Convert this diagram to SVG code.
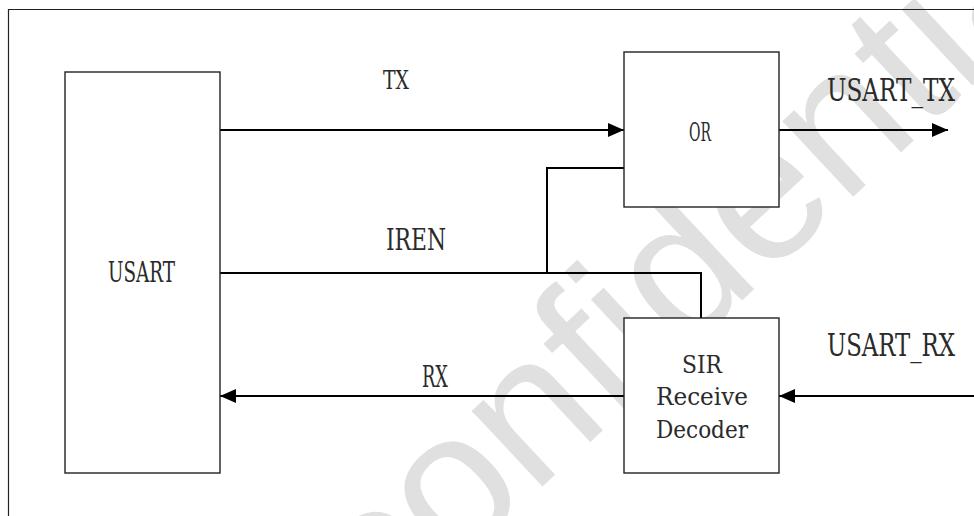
<svg xmlns="http://www.w3.org/2000/svg" width="974" height="516" viewBox="0 0 974 516">
  <style>
    .frame { fill: none; stroke: #222; stroke-width: 1.2; }
    .box { fill: #fff; stroke: #222; stroke-width: 1.4; }
    .wire { fill: none; stroke: #000; stroke-width: 2; }
    .lbl { font-family: "DejaVu Serif Condensed", "DejaVu Serif", serif; fill: #2a2a2a; }
    .mark { font-family: "Liberation Sans", Arial, sans-serif; fill: #e0e0e0; font-size: 196px; }
  </style>
  <defs>
    <marker id="arrow" markerUnits="userSpaceOnUse" markerWidth="17" markerHeight="14" refX="16" refY="7" orient="auto">
      <path d="M0,0 L16,7 L0,14 z" fill="#000"/>
    </marker>
  </defs>

  <rect x="0" y="0" width="974" height="516" fill="#fff"/>

  <!-- background stamp -->
  <text class="mark" x="381" y="637" transform="rotate(-43 381 637)">confidential</text>

  <!-- outer frame -->
  <path class="frame" d="M8.5,516 V9.5 H974"/>

  <!-- connectors -->
  <g id="connectors">
    <path class="wire" d="M220,130 H624" marker-end="url(#arrow)"/>
    <path class="wire" d="M779,130 H948" marker-end="url(#arrow)"/>
    <path class="wire" d="M220,273 H701 V318"/>
    <path class="wire" d="M547,273 V168 H624"/>
    <path class="wire" d="M624,396 H220" marker-end="url(#arrow)"/>
    <path class="wire" d="M974,396 H779" marker-end="url(#arrow)"/>
  </g>

  <!-- signal labels -->
  <g id="labels">
    <text class="lbl" x="383" y="89" font-size="26" textLength="26" lengthAdjust="spacingAndGlyphs">TX</text>
    <text class="lbl" x="386" y="250" font-size="30" textLength="60" lengthAdjust="spacingAndGlyphs">IREN</text>
    <text class="lbl" x="422" y="387" font-size="30" textLength="26" lengthAdjust="spacingAndGlyphs">RX</text>
    <text class="lbl" x="827" y="101" font-size="32" textLength="128" lengthAdjust="spacingAndGlyphs">USART_TX</text>
    <text class="lbl" x="827" y="356" font-size="32" textLength="128" lengthAdjust="spacingAndGlyphs">USART_RX</text>
  </g>

  <g id="usart">
    <rect class="box" x="65" y="72" width="155" height="401"/>
    <text class="lbl" x="108" y="282" font-size="27" textLength="67" lengthAdjust="spacingAndGlyphs">USART</text>
  </g>

  <g id="or">
    <rect class="box" x="624" y="52" width="155" height="155"/>
    <text class="lbl" x="689" y="141" font-size="26" textLength="22" lengthAdjust="spacingAndGlyphs">OR</text>
  </g>

  <g id="sir-decoder">
    <rect class="box" x="624" y="318" width="155" height="155"/>
    <text class="lbl" x="682" y="373" font-size="24" textLength="40" lengthAdjust="spacingAndGlyphs">SIR</text>
    <text class="lbl" x="656" y="405" font-size="24" textLength="92" lengthAdjust="spacingAndGlyphs">Receive</text>
    <text class="lbl" x="656" y="438" font-size="24" textLength="92" lengthAdjust="spacingAndGlyphs">Decoder</text>
  </g>
</svg>
